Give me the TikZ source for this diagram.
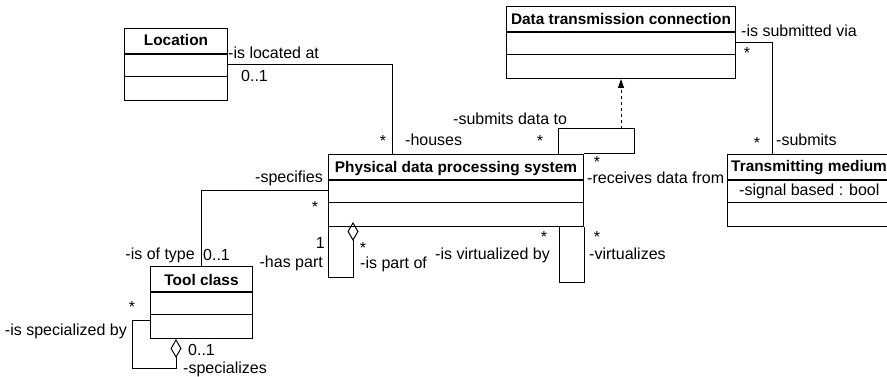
\documentclass[tikz,border=0pt]{standalone}
\usepackage{fontspec}
\setmainfont{Liberation Sans}
\usetikzlibrary{arrows.meta,calc}

\begin{document}
\begin{tikzpicture}[x=1pt,y=-1pt,
    umlclass/.style={draw,line width=1pt,inner sep=0pt,minimum height=72pt,anchor=north west},
    classname/.style={font=\fontsize{15.4}{18}\selectfont\bfseries,inner sep=0pt,anchor=base},
    lbl/.style={font=\fontsize{16}{19}\selectfont,inner sep=0pt},
    divider/.style={line width=1.5pt},
    assoc/.style={line width=1pt},
    aggr/.style={line width=1pt,-{Diamond[open,length=19pt,width=11pt]}},
    realize/.style={line width=1pt,dash pattern=on 3pt off 3pt,-{Triangle[length=9pt,width=6pt]}}]
  \useasboundingbox (0,0) rectangle (887,377);
  \clip (0,0) rectangle (887,377);

  % classes
  \node[umlclass,minimum width=103pt] (loc) at (124,28) {};
  \node[umlclass,minimum width=229pt] (conn) at (506,6) {};
  \node[umlclass,minimum width=255pt] (sys) at (328,154) {};
  \node[umlclass,minimum width=170pt] (med) at (727,154) {};
  \node[umlclass,minimum width=102pt] (tool) at (150,266) {};

  \foreach \c in {loc,conn,sys,med,tool}
    \draw[divider] ([yshift=-26pt]\c.north west) -- ([yshift=-26pt]\c.north east)
                   ([yshift=-48.5pt]\c.north west) -- ([yshift=-48.5pt]\c.north east);

  \node[classname] (locname) at ([yshift=-18pt]loc.north) {Location};
  \node[classname] (connname) at ([yshift=-18.5pt]conn.north) {Data transmission connection};
  \node[classname] (sysname) at ([yshift=-19pt]sys.north) {Physical data processing system};
  \node[classname,anchor=base west] (medname) at ([xshift=4pt,yshift=-18pt]med.north west) {Transmitting medium};
  \node[classname] (toolname) at ([yshift=-19pt]tool.north) {Tool class};
  \node[lbl,anchor=base west] (medattr) at ([xshift=12pt,yshift=-42pt]med.north west) {-signal based : bool};

  % associations
  \coordinate (txa) at (558,129);
  \coordinate (txb) at (634,129);
  \coordinate (txmid) at (621,129);
  \coordinate (partof) at ([xshift=25pt,yshift=5pt]sys.south west);

  \draw[assoc] (loc.east) -| ([xshift=64pt]sys.north west);
  \draw[assoc] (conn.east) -| ([xshift=45pt]med.north west);
  \draw[assoc] (sys.north -| txa) -- (txa) -- (txb) -- (txb |- sys.north) -- (sys.north east);
  \draw[realize] (txmid) -- (txmid |- conn.south);
  \draw[assoc] (sys.west) -| (tool.north);
  \draw[aggr] (sys.south west) -- ++(0,50) -| (partof);
  \draw[assoc] ([xshift=-25pt]sys.south east) -- ++(0,55) -| (sys.south east);
  \draw[aggr] ([yshift=-54pt]tool.north west) -- ++(-18,0) -- ++(0,48) -| ([xshift=26pt]tool.south west);

  % roles and multiplicities
  \node[lbl,anchor=base west] (r1) at (228,59) {-is located at};
  \node[lbl,anchor=base west] (m1) at (241,82) {0..1};
  \node[lbl,anchor=base] (m2) at (383,147) {*};
  \node[lbl,anchor=base west] (r2) at (405,145.5) {-houses};
  \node[lbl,anchor=base west] (r3) at (453,125) {-submits data to};
  \node[lbl,anchor=base] (m3) at (540,147) {*};
  \node[lbl,anchor=base west] (r4) at (741,37) {-is submitted via};
  \node[lbl,anchor=base] (m4) at (747,59) {*};
  \node[lbl,anchor=base] (m5) at (757,149) {*};
  \node[lbl,anchor=base west] (r5) at (776,146) {-submits};
  \node[lbl,anchor=base] (m6) at (597,168) {*};
  \node[lbl,anchor=base west] (r6) at (587,183.5) {-receives data from};
  \node[lbl,anchor=base east] (r7) at (323,183) {-specifies};
  \node[lbl,anchor=base] (m7) at (315,212) {*};
  \node[lbl,anchor=base east] (m8) at (325,248) {1};
  \node[lbl,anchor=base east] (r8) at (323,267) {-has part};
  \node[lbl,anchor=base] (m9) at (363,253) {*};
  \node[lbl,anchor=base west] (r9) at (360,268) {-is part of};
  \node[lbl,anchor=base west] (r10) at (435,259) {-is virtualized by};
  \node[lbl,anchor=base] (m10) at (544,242) {*};
  \node[lbl,anchor=base] (m11) at (597,242) {*};
  \node[lbl,anchor=base west] (r11) at (589,259) {-virtualizes};
  \node[lbl,anchor=base east] (r12) at (195,259) {-is of type};
  \node[lbl,anchor=base west] (m12) at (203,260) {0..1};
  \node[lbl,anchor=base] (m13) at (132,312) {*};
  \node[lbl,anchor=base east] (r13) at (127,335) {-is specialized by};
  \node[lbl,anchor=base west] (m14) at (188,355) {0..1};
  \node[lbl,anchor=base west] (r14) at (183,373) {-specializes};
\end{tikzpicture}
\end{document}
